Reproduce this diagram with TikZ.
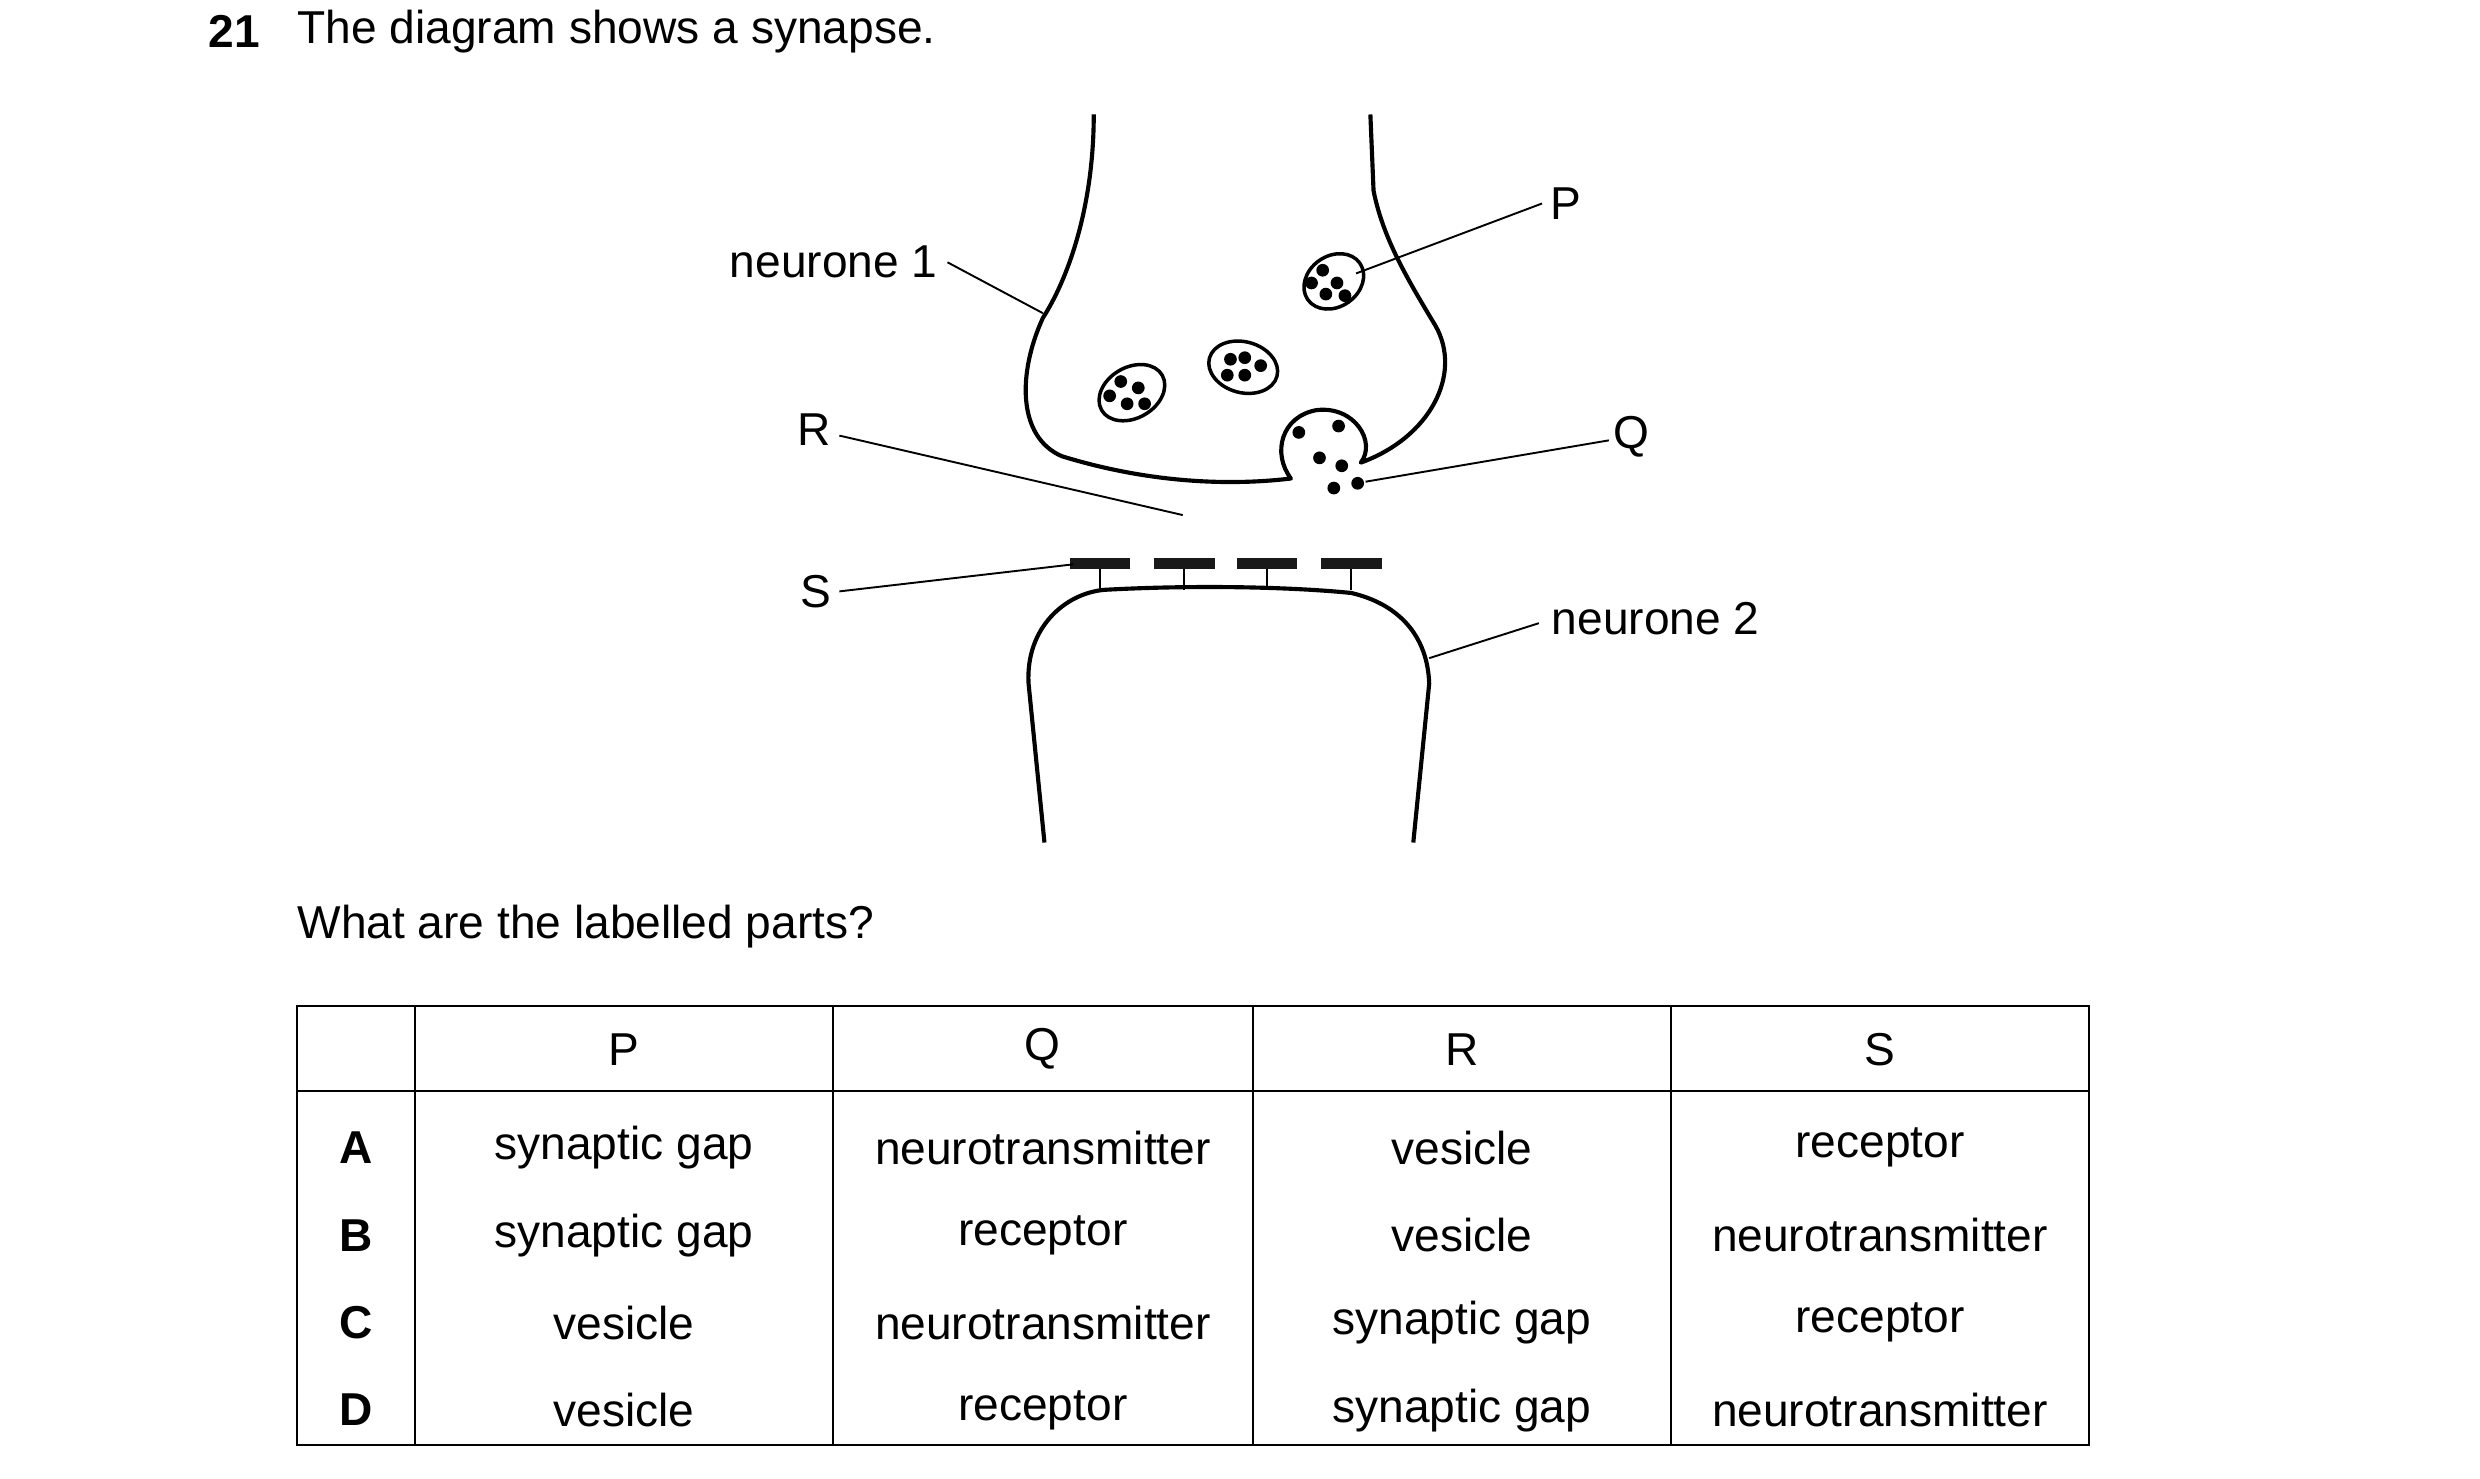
\documentclass[tikz,border=0pt]{standalone}
\usepackage{fontspec}
\setmainfont{Liberation Sans}
\begin{document}
\begin{tikzpicture}[x=1pt,y=-1pt,
  every node/.style={font=\fontsize{29}{34}\selectfont, inner sep=0pt},
  outline/.style={line width=2.6pt, line join=round},
  leader/.style={line width=1.2pt},
  ves/.style={outline, line width=2.2pt},
  dot/.style={circle, fill=black, minimum size=8pt, inner sep=0pt},
  rec/.style={fill=black!90},
  cell/.style={anchor=center}]
\useasboundingbox (0,0) rectangle (1560,930.3);
% header
\node[anchor=west,font=\fontsize{29}{34}\selectfont\bfseries] (num) at (131,20) {21};
\node[anchor=west] (title) at (187,20) {The diagram shows a synapse.};
% neurone 1
\draw[outline] (688,72) .. controls (688,130) and (672,175) .. (656,200)
  .. controls (640,235) and (640,275) .. (668,287)
  .. controls (720,303) and (770,306) .. (812,301)
  .. controls (800,285) and (806,262) .. (828,258)
  .. controls (852,255) and (866,278) .. (856,291)
  .. controls (900,275) and (920,235) .. (903,205)
  .. controls (885,175) and (870,150) .. (864,120)
  -- (862,72);
% vesicles
\draw[ves] (839,177) ellipse[x radius=20, y radius=16, rotate=35];
\draw[ves] (782,231) ellipse[x radius=22, y radius=16, rotate=-15];
\draw[ves] (712,247) ellipse[x radius=22, y radius=16, rotate=30];
\foreach \p in {(833,169),(827,178),(841,179),(834,187),(846,186),(829,172)}{}
\node[dot] (p1) at (832,170) {};\node[dot] at (825,178) {};\node[dot] at (841,178) {};\node[dot] at (834,185) {};\node[dot] at (846,186) {};
\node[dot] at (774,226) {};\node[dot] at (783,225) {};\node[dot] at (793,230) {};\node[dot] at (772,236) {};\node[dot] at (783,236) {};
\node[dot] at (705,240) {};\node[dot] at (716,244) {};\node[dot] at (698,249) {};\node[dot] at (709,254) {};\node[dot] at (720,254) {};
% Q dots
\node[dot] at (817,272) {};\node[dot] at (842,268) {};\node[dot] at (830,288) {};\node[dot] at (844,293) {};
\node[dot] at (839,307) {};\node[dot] (q1) at (854,304) {};
% receptors
\foreach \x in {673,726,778,831}{
  \fill[rec] (\x,351) rectangle ++(38,7);
  \draw[leader] (\x+19,358) -- (\x+19,371);
}
% neurone 2
\draw[outline] (657,530) -- (647,430) .. controls (645,395) and (670,373) .. (695,371)
  .. controls (750,368) and (810,369) .. (850,373)
  .. controls (880,380) and (898,400) .. (899,430) -- (889,530);
% labels
\node[anchor=east] (n1) at (590,165) {neurone 1};
\draw[leader] (596,165) -- (656,197);
\node[anchor=east] (R) at (523,270) {R};
\draw[leader] (528,274) -- (744,324);
\node[anchor=east] (S) at (523,372) {S};
\draw[leader] (528,372) -- (675,355);
\node[anchor=west] (P) at (975,128) {P};
\draw[leader] (970,128) -- (853,172);
\node[anchor=west] (Q) at (1015,275) {Q};
\draw[leader] (1012,277) -- (859,303);
\node[anchor=west] (n2) at (976,389) {neurone 2};
\draw[leader] (968,392) -- (899,414);
% question
\node[anchor=west] (qq) at (187,583) {What are the labelled parts?};
% table
\draw[line width=1.3pt] (187,633) rectangle (1314,909);
\draw[line width=1.3pt] (187,686) -- (1314,686);
\foreach \x in {261,524,788,1051}{\draw[line width=1.3pt] (\x,633) -- (\x,909);}
\node (hP) at (392.5,660) {P};\node (hQ) at (656,660) {Q};\node (hR) at (919.5,660) {R};\node (hS) at (1182.5,660) {S};
\node[font=\fontsize{29}{34}\selectfont\bfseries] at (224,722) {A};
\node[font=\fontsize{29}{34}\selectfont\bfseries] at (224,777) {B};
\node[font=\fontsize{29}{34}\selectfont\bfseries] at (224,832) {C};
\node[font=\fontsize{29}{34}\selectfont\bfseries] at (224,887) {D};
\node at (392.5,722) {synaptic gap};\node at (656,722) {neurotransmitter};\node at (919.5,722) {vesicle};\node at (1182.5,722) {receptor};
\node at (392.5,777) {synaptic gap};\node at (656,777) {receptor};\node at (919.5,777) {vesicle};\node at (1182.5,777) {neurotransmitter};
\node at (392.5,832) {vesicle};\node at (656,832) {neurotransmitter};\node at (919.5,832) {synaptic gap};\node at (1182.5,832) {receptor};
\node at (392.5,887) {vesicle};\node at (656,887) {receptor};\node at (919.5,887) {synaptic gap};\node at (1182.5,887) {neurotransmitter};
\end{tikzpicture}
\end{document}
